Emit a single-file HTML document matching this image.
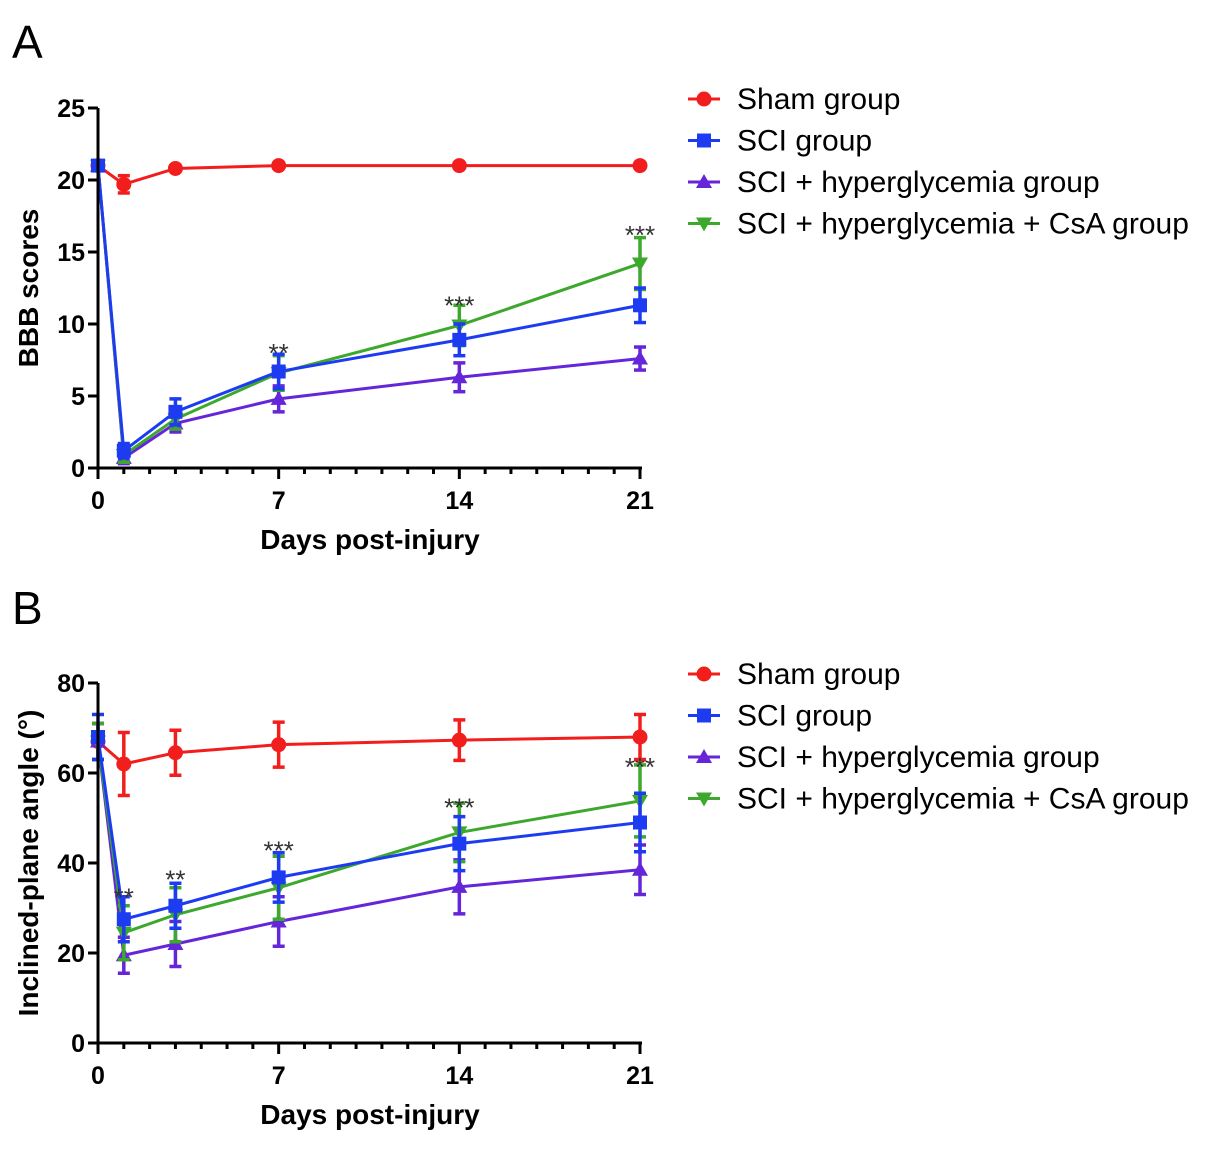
<!DOCTYPE html>
<html><head><meta charset="utf-8"><style>
body{margin:0;background:#fff;}
svg text{font-family:"Liberation Sans",Arial,sans-serif;}
</style></head><body>
<svg id="chart" width="1205" height="1146" xmlns="http://www.w3.org/2000/svg"></svg>
<script>
const days = [0, 1, 3, 7, 14, 21];
const groupNames = ["Sham group", "SCI group", "SCI + hyperglycemia group", "SCI + hyperglycemia + CsA group"];
const groupColors = ["#f21d1d", "#1d3cf2", "#6525d8", "#3ca82c"];
const bbbSham = [21, 19.7, 20.8, 21, 21, 21];
const bbbShamErr = [0.2, 0.6, 0.2, 0.1, 0.1, 0.1];
const bbbSci = [21, 1.2, 3.9, 6.7, 8.9, 11.3];
const bbbSciErr = [0.2, 0.5, 0.9, 1.2, 1.1, 1.2];
const bbbHyper = [21, 0.7, 3.1, 4.8, 6.3, 7.6];
const bbbHyperErr = [0.2, 0.4, 0.6, 0.9, 1.0, 0.8];
const bbbCsa = [21, 0.9, 3.4, 6.6, 9.9, 14.2];
const bbbCsaErr = [0.2, 0.5, 0.7, 1.2, 1.4, 1.8];
const bbbStars = [["**", 7, 8.2], ["***", 14, 11.5], ["***", 21, 16.4]];
const angSham = [67, 62, 64.5, 66.3, 67.3, 68];
const angShamErr = [4, 7, 5, 5, 4.5, 5];
const angSci = [68, 27.5, 30.5, 36.8, 44.3, 49];
const angSciErr = [5, 5, 5, 5.5, 6, 6.5];
const angHyper = [67, 19.5, 22, 27, 34.7, 38.5];
const angHyperErr = [4, 4, 5, 5.5, 6, 5.5];
const angCsa = [67, 24.5, 28.5, 34.5, 46.8, 53.8];
const angCsaErr = [4, 6, 6, 7, 6.5, 8];
const angStars = [["**", 1, 33], ["**", 3, 37], ["***", 7, 43.5], ["***", 14, 53], ["***", 21, 62]];
const xTicks = [0, 7, 14, 21];
const bbbTicks = [0, 5, 10, 15, 20, 25];
const angTicks = [0, 20, 40, 60, 80];

const NS = "http://www.w3.org/2000/svg";
const svg = document.getElementById("chart");
function mk(tag, attrs, parent, name) {
  const e = document.createElementNS(NS, tag);
  for (const k in attrs) e.setAttribute(k, attrs[k]);
  
  
  (parent || svg).appendChild(e);
  return e;
}
function marker(g, i, cx, cy, color) {
  if (i === 0) mk("circle", {cx, cy, r: 7.5, fill: color}, g, "marker-circle");
  else if (i === 1) mk("rect", {x: cx - 7, y: cy - 7, width: 14, height: 14, fill: color}, g, "marker-square");
  else if (i === 2) mk("polygon", {points: `${cx},${cy-8} ${cx+8},${cy+6} ${cx-8},${cy+6}`, fill: color}, g, "marker-triangle");
  else mk("polygon", {points: `${cx},${cy+8} ${cx+8},${cy-6} ${cx-8},${cy-6}`, fill: color}, g, "marker-triangle-down");
}
function panel(opt) {
  const g = mk("g", {}, svg, opt.name);
  const X = d => 98 + d * (640 - 98) / 21;
  const Y = v => opt.y0 - v * (opt.y0 - opt.yTop) / opt.yMax;
  mk("text", {x: 12, y: opt.letterY, "font-size": 46}, g, "panel-letter").textContent = opt.letter;
  const order = [0, 2, 3, 1];
  order.forEach(si => {
    const s = opt.series[si];
    const sg = mk("g", {}, g, "series-" + si);
    const c = groupColors[si];
    let pts = days.map((d, j) => X(d) + "," + Y(s[0][j])).join(" ");
    mk("polyline", {points: pts, fill: "none", stroke: c, "stroke-width": 3}, sg, "series-line");
    days.forEach((d, j) => {
      const x = X(d), yh = Y(s[0][j] + s[1][j]), yl = Y(s[0][j] - s[1][j]);
      mk("line", {x1: x, x2: x, y1: yh, y2: yl, stroke: c, "stroke-width": 3.5}, sg, "error-bar");
      mk("line", {x1: x - 6, x2: x + 6, y1: yh, y2: yh, stroke: c, "stroke-width": 3.5}, sg, "error-cap");
      mk("line", {x1: x - 6, x2: x + 6, y1: yl, y2: yl, stroke: c, "stroke-width": 3.5}, sg, "error-cap");
      marker(sg, si, x, Y(s[0][j]), c);
    });
  });
  mk("line", {x1: 98, x2: 98, y1: opt.yTop, y2: opt.y0 + 1.5, stroke: "#000", "stroke-width": 3}, g, "y-axis");
  mk("line", {x1: 96.5, x2: 642, y1: opt.y0, y2: opt.y0, stroke: "#000", "stroke-width": 3}, g, "x-axis");
  opt.yTicks.forEach(t => {
    mk("line", {x1: 88, x2: 98, y1: Y(t), y2: Y(t), stroke: "#000", "stroke-width": 3}, g, "y-tick");
    const tx = mk("text", {x: 85, y: Y(t) + 9, "font-size": 25, "font-weight": "bold", "text-anchor": "end"}, g, "y-tick-label");
    tx.textContent = t;
  });
  for (let d = 0; d <= 21; d++) {
    const major = xTicks.includes(d);
    mk("line", {x1: X(d), x2: X(d), y1: opt.y0, y2: opt.y0 + (major ? 11 : 6), stroke: "#000", "stroke-width": 3}, g, "x-tick");
  }
  xTicks.forEach(t => {
    const tx = mk("text", {x: X(t), y: opt.y0 + 41, "font-size": 25, "font-weight": "bold", "text-anchor": "middle"}, g, "x-tick-label");
    tx.textContent = t;
  });
  const xt = mk("text", {x: 370, y: opt.y0 + 81, "font-size": 28, "font-weight": "bold", "text-anchor": "middle"}, g, "x-axis-title");
  xt.textContent = "Days post-injury";
  const cy = (opt.y0 + opt.yTop) / 2;
  const yt = mk("text", {x: 38, y: cy, "font-size": 28, "font-weight": "bold", "text-anchor": "middle", transform: `rotate(-90 38 ${cy})`}, g, "y-axis-title");
  yt.textContent = opt.yTitle;
  opt.stars.forEach(s => {
    const st = mk("text", {x: X(s[1]), y: Y(s[2]) + 12, "font-size": 26, fill: "#333", "text-anchor": "middle"}, g, "significance-mark");
    st.textContent = s[0];
  });
  const lg = mk("g", {}, g, "legend");
  groupNames.forEach((n, i) => {
    const y = opt.legY + i * 41.5;
    const eg = mk("g", {}, lg, "legend-entry");
    mk("line", {x1: 688, x2: 720, y1: y, y2: y, stroke: groupColors[i], "stroke-width": 3}, eg, "legend-line");
    marker(eg, i, 704, y, groupColors[i]);
    mk("text", {x: 737, y: y + 10, "font-size": 30}, eg, "legend-label").textContent = n;
  });
}
panel({name: "panel-a", letter: "A", letterY: 58, y0: 468, yTop: 108, yMax: 25, yTicks: bbbTicks, yTitle: "BBB scores",
  series: [[bbbSham, bbbShamErr], [bbbSci, bbbSciErr], [bbbHyper, bbbHyperErr], [bbbCsa, bbbCsaErr]], stars: bbbStars, legY: 99});
panel({name: "panel-b", letter: "B", letterY: 624, y0: 1043, yTop: 683, yMax: 80, yTicks: angTicks, yTitle: "Inclined-plane angle (°)",
  series: [[angSham, angShamErr], [angSci, angSciErr], [angHyper, angHyperErr], [angCsa, angCsaErr]], stars: angStars, legY: 674});
</script>
</body></html>
